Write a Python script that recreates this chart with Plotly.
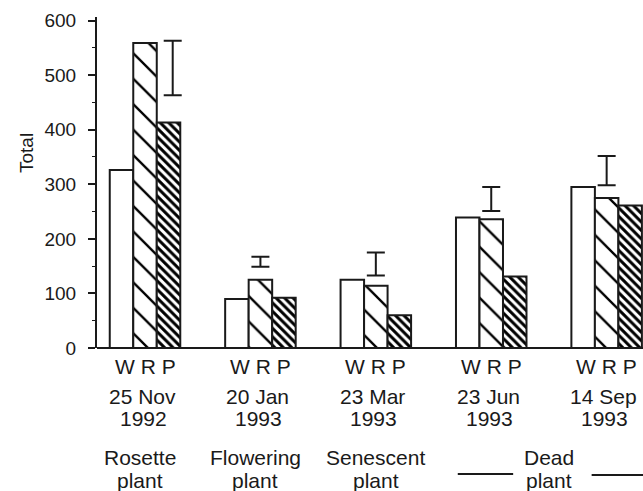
import plotly.graph_objects as go

# ---- data ----
groups = [0, 1, 2, 3, 4]
dates = ["25 Nov", "20 Jan", "23 Mar", "23 Jun", "14 Sep"]
years = ["1992", "1993", "1993", "1993", "1993"]
stages = ["Rosette", "Flowering", "Senescent"]
stage_dead = "Dead"
w_vals = [326, 90, 125, 239, 295]
r_vals = [559, 125, 114, 236, 275]
p_vals = [413, 92, 60, 131, 261]
lsd_center = [513, 158, 154, 273, 325]
lsd_half = [50, 9, 21, 22, 27]
y_ticks = [0, 100, 200, 300, 400, 500, 600]

# ---- layout helpers ----
W, H = 643, 491
ML, MR, MT, MB = 97, 0, 17, 143
PLOT_H = H - MT - MB
BASE_PX = H - MB  # pixel row of the x axis


def py(px):
    """pixel row -> paper y"""
    return (BASE_PX - px) / PLOT_H


FONT = "Arial, Liberation Sans, Helvetica, sans-serif"
INK = "#1a1a1a"
lsd_offset = [0.24, 0, 0, 0, 0]

fig = go.Figure()
fig.add_trace(go.Bar(x=groups, y=w_vals, name="W",
                     marker=dict(color="white", line=dict(color=INK, width=2))))
fig.add_trace(go.Bar(x=groups, y=r_vals, name="R",
                     marker=dict(color="white", line=dict(color=INK, width=2),
                                 pattern=dict(shape="\\", size=18, solidity=0.13,
                                              fgcolor="black", fgopacity=1,
                                              bgcolor="white"))))
fig.add_trace(go.Bar(x=groups, y=p_vals, name="P",
                     marker=dict(color="white", line=dict(color=INK, width=2),
                                 pattern=dict(shape="\\", size=6, solidity=0.5,
                                              fgcolor="black", fgopacity=1,
                                              bgcolor="white"))))
fig.add_trace(go.Scatter(
    x=[g + o for g, o in zip(groups, lsd_offset)], y=lsd_center, mode="markers",
    marker=dict(size=1, color="rgba(0,0,0,0)"),
    error_y=dict(type="data", array=lsd_half, symmetric=True,
                 color=INK, thickness=2, width=9),
    showlegend=False, hoverinfo="skip"))

annotations = []
for g, d, yr in zip(groups, dates, years):
    annotations.append(dict(x=g, y=py(366), text="W R P", xshift=0))
    annotations.append(dict(x=g, y=py(396), text=d, xshift=-3))
    annotations.append(dict(x=g, y=py(419), text=yr, xshift=-2))
for g, s in zip(groups, stages):
    annotations.append(dict(x=g, y=py(457), text=s, xshift=-5 if g < 2 else 0))
    annotations.append(dict(x=g, y=py(480), text="plant", xshift=-5 if g < 2 else 0))
annotations.append(dict(x=3.5, y=py(457), text=stage_dead, xshift=0))
annotations.append(dict(x=3.5, y=py(480), text="plant", xshift=0))
for a in annotations:
    a.update(xref="x", yref="paper", showarrow=False, yanchor="middle",
             xanchor="center", font=dict(family=FONT, size=21, color=INK))

annotations.append(dict(x=(26 - ML) / (W - ML - MR), y=py(153), xref="paper", yref="paper",
                        text="Total", textangle=-90, showarrow=False,
                        xanchor="center", yanchor="middle",
                        font=dict(family=FONT, size=19, color=INK)))

shapes = [
    dict(type="line", xref="x", yref="paper", x0=2.71, x1=3.19, y0=py(474), y1=py(474),
         line=dict(color=INK, width=2)),
    dict(type="line", xref="x", yref="paper", x0=3.87, x1=4.4, y0=py(475), y1=py(475),
         line=dict(color=INK, width=2)),
]

fig.update_layout(
    width=W, height=H,
    margin=dict(l=ML, r=MR, t=MT, b=MB),
    paper_bgcolor="white", plot_bgcolor="white",
    barmode="group", bargap=0.389, bargroupgap=0,
    showlegend=False,
    annotations=annotations, shapes=shapes,
    font=dict(family=FONT, color=INK),
    xaxis=dict(range=[-0.416, 4.315], showticklabels=False, ticks="",
               showgrid=False, zeroline=False, showline=False, fixedrange=True),
    yaxis=dict(range=[0, 606.5], tickvals=y_ticks, ticks="outside", ticklen=7,
               tickwidth=2, tickcolor=INK, showline=True, linecolor=INK, linewidth=2,
               showgrid=False, zeroline=True, zerolinecolor=INK, zerolinewidth=2,
               tickfont=dict(family=FONT, size=19, color=INK), ticklabelstandoff=8,
               minor=dict(dtick=50, ticks="outside", ticklen=3, tickcolor=INK, tickwidth=1)),
)

fig.write_html("out.html", config={"displayModeBar": False},
               post_script="document.body.style.margin='0';document.body.style.overflow='hidden';")
